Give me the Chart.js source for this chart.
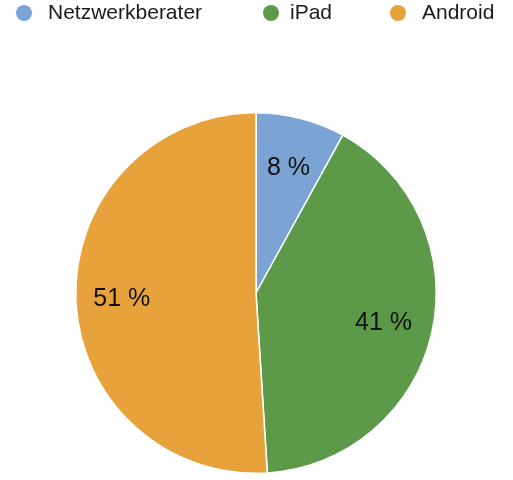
<!DOCTYPE html>
<html>
<head>
<meta charset="utf-8">
<script src="https://cdn.jsdelivr.net/npm/chart.js@4/dist/chart.umd.min.js"></script>
<style>
  html, body { margin: 0; padding: 0; background: #fff; }
  #wrap { width: 513px; height: 480px; position: relative; }
</style>
</head>
<body>
<div id="wrap"><canvas id="pie"></canvas></div>
<script>
// ===== DATA =====
const labels = ["Netzwerkberater", "iPad", "Android"];
const shares = [8, 41, 51];
const colors = ["#7ba3d4", "#5c9a4a", "#e8a23c"];

const FONT = "'Liberation Sans', Arial, Helvetica, sans-serif";

// legend row on top, spread out like the original
const topLegend = {
  id: "topLegend",
  afterDraw(chart) {
    const ctx = chart.ctx;
    const marks = [24, 271, 398];   // marker centres
    const texts = [48, 290, 422];   // text starts
    ctx.save();
    ctx.font = "21px " + FONT;
    ctx.textBaseline = "middle";
    chart.data.labels.forEach((l, i) => {
      ctx.fillStyle = chart.data.datasets[0].backgroundColor[i];
      ctx.beginPath();
      ctx.arc(marks[i], 13, 8, 0, Math.PI * 2);
      ctx.fill();
      ctx.fillStyle = "#1a1a1a";
      ctx.fillText(l, texts[i], 13);
    });
    ctx.restore();
  }
};

// percent labels inside the slices
const sliceLabels = {
  id: "sliceLabels",
  afterDatasetsDraw(chart) {
    const ctx = chart.ctx;
    const meta = chart.getDatasetMeta(0);
    ctx.save();
    ctx.font = "25px " + FONT;
    ctx.fillStyle = "#111";
    ctx.textAlign = "center";
    ctx.textBaseline = "middle";
    meta.data.forEach((arc, i) => {
      const p = arc.getProps(["x", "y", "startAngle", "endAngle", "outerRadius"], true);
      const mid = (p.startAngle + p.endAngle) / 2;
      const r = p.outerRadius * (i === 2 ? 0.745 : 0.725);
      ctx.fillText(chart.data.datasets[0].data[i] + " %", p.x + Math.cos(mid) * r, p.y + Math.sin(mid) * r + 2);
    });
    ctx.restore();
  }
};

new Chart(document.getElementById("pie"), {
  type: "pie",
  data: {
    labels: labels,
    datasets: [{
      data: shares,
      backgroundColor: colors,
      borderColor: "#ffffff",
      borderWidth: 1.5
    }]
  },
  options: {
    responsive: true,
    maintainAspectRatio: false,
    animation: false,
    layout: { padding: { top: 112, bottom: 6, left: 75, right: 76 } },
    plugins: {
      legend: { display: false },
      tooltip: { enabled: false }
    }
  },
  plugins: [topLegend, sliceLabels]
});
</script>
</body>
</html>
